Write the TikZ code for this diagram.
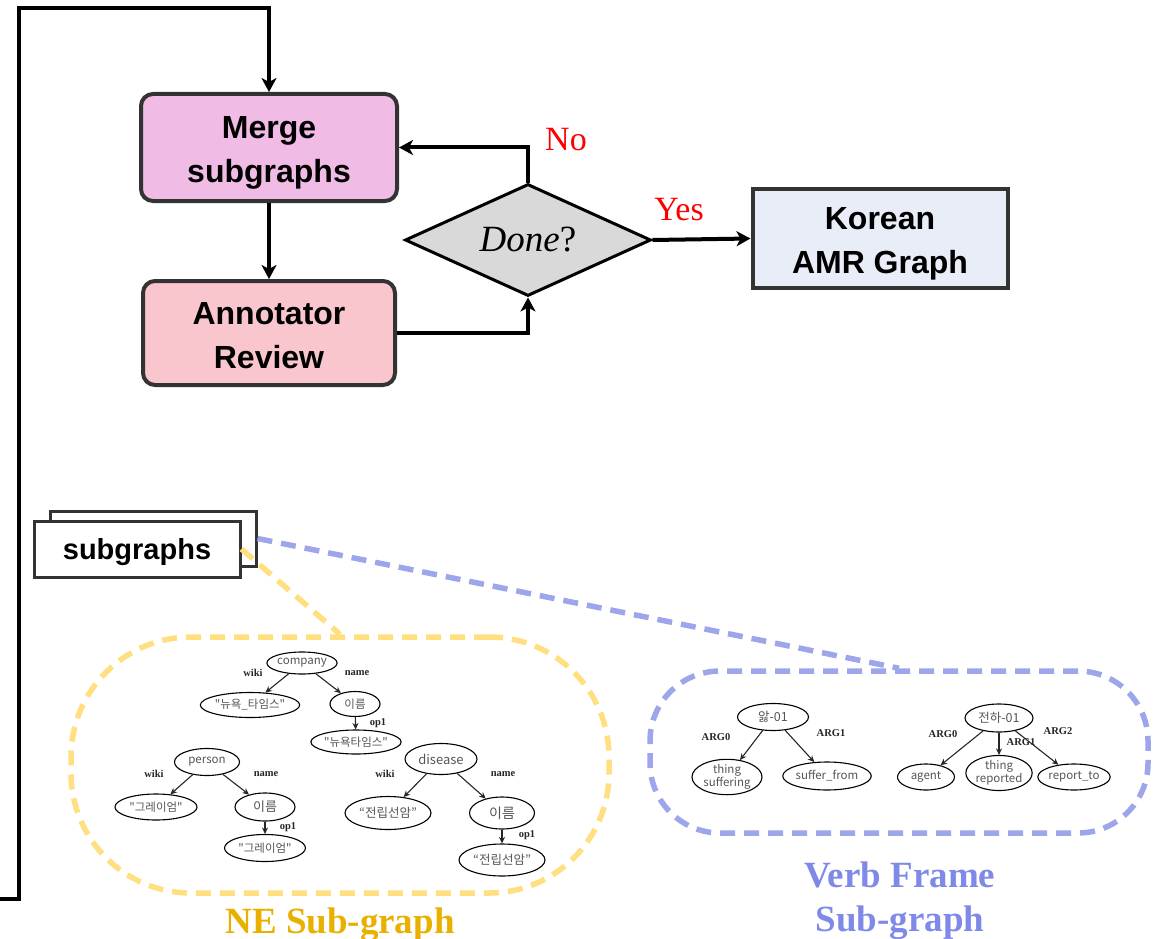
\documentclass[tikz,border=0pt]{standalone}
\usepackage{fontspec}
\setmainfont{Liberation Serif}
\newfontfamily\boxfont{Liberation Sans}
\newfontfamily\krfont{Noto Sans CJK KR}
\usetikzlibrary{shapes.geometric,arrows.meta}
\definecolor{boxline}{HTML}{333333}
\definecolor{mergefill}{HTML}{F0BBE5}
\definecolor{annotfill}{HTML}{FAC6CD}
\definecolor{korfill}{HTML}{E8EDF7}
\definecolor{diamondfill}{HTML}{D9D9D9}
\definecolor{neyellow}{HTML}{FFDF80}
\definecolor{vfblue}{HTML}{9DA5EB}
\definecolor{nelabel}{HTML}{E9B000}
\definecolor{vflabel}{HTML}{7F89E8}
\definecolor{nodetext}{HTML}{555555}
\newcommand{\lowr}[1]{\raisebox{-5pt}[\height][\depth]{#1}}
\begin{document}
\begin{tikzpicture}[x=1pt,y=-1pt,
  flowbox/.style={draw=boxline, line width=4pt, font=\boxfont\bfseries\fontsize{32}{44}\selectfont, align=center, inner sep=0pt},
  flowarrow/.style={line width=4pt, -{Stealth[length=14pt,width=15pt,inset=4pt]}},
  stackbox/.style={draw=boxline, line width=3pt, fill=white, minimum width=206pt, minimum height=55pt, inner sep=0pt},
  yesno/.style={text=red, font=\fontsize{34}{40}\selectfont},
  region/.style={line width=5.5pt, dash pattern=on 15pt off 9pt, inner sep=0pt},
  amr/.style n args={2}{ellipse, draw, line width=1.1pt, minimum width=#1, minimum height=#2, inner sep=0pt, align=center, text=nodetext, font=\krfont\fontsize{11.5}{13}\selectfont},
  gedge/.style={line width=1.1pt, draw=black!85, -{Stealth[length=6.5pt,width=6pt]}},
  elabel/.style={font=\bfseries\fontsize{10.5}{12}\selectfont, text=black!85},
  bigl/.style={font=\bfseries\fontsize{37}{44}\selectfont, align=center}
]
\useasboundingbox (0,0) rectangle (1159,939);

% ---------------- flowchart ----------------
\node[flowbox, rounded corners=12pt, fill=mergefill, minimum width=256pt, minimum height=107pt] (merge) at (269,147.5) {\lowr{Merge}\\\lowr{subgraphs}};
\node[flowbox, rounded corners=12pt, fill=annotfill, minimum width=252pt, minimum height=104pt] (annot) at (269,333) {\raisebox{-3pt}[\height][\depth]{Annotator}\\\raisebox{-3pt}[\height][\depth]{Review}};
\node[flowbox, fill=korfill, minimum width=255pt, minimum height=99pt] (korean) at (880,238.5) {\lowr{Korean}\\\lowr{AMR Graph}};
\node[diamond, draw=black, line width=3pt, fill=diamondfill, minimum width=246pt, minimum height=112pt, inner sep=0pt, shape aspect=2.2, font=\fontsize{37}{42}\selectfont] (done) at (528,240) {{\itshape Done}?};

\coordinate (loopstart) at (0,899);
\coordinate (loopcorner) at (19,8);
\draw[flowarrow] (loopstart) -| (loopcorner) -| (merge.north);
\draw[flowarrow] (merge.south) -- (annot.north);
\draw[flowarrow] (annot.east) -| (done.south);
\draw[flowarrow] (done.north) |- (merge.east);
\draw[flowarrow] (done.east) -- (korean.west);
\node[yesno] (no) at (566,140) {No};
\node[yesno] (yes) at (679,210) {Yes};

% ---------------- regions ----------------
\node[region, draw=neyellow, rounded corners=120pt, minimum width=538pt, minimum height=256pt] (nereg) at (340,765) {};
\node[region, draw=vfblue, rounded corners=70pt, minimum width=498pt, minimum height=162pt] (vfreg) at (899,752) {};

% ---------------- subgraphs stack ----------------
\node[stackbox] (back) at (153,538.5) {};
\node[stackbox, minimum height=56pt, font=\boxfont\bfseries\fontsize{29}{36}\selectfont] (front) at (137,549) {\raisebox{-3pt}[\height][\depth]{subgraphs}};
\draw[region, draw=vfblue] (back.east) -- (vfreg.north);
\draw[region, draw=neyellow] (front.east) -- (nereg.north);

% ---------------- NE sub-graphs ----------------
\node[amr={63pt}{22pt}] (company) at (302,663) {company};
\node[amr={68pt}{25pt}] (nyt1) at (250,705) {"뉴욕\_타임스"};
\node[amr={50pt}{25pt}] (nm1) at (355,704) {이름};
\node[amr={72pt}{24pt}] (nyt2) at (356,742) {"뉴욕타임스"};
\draw[gedge] (company) -- (nyt1);
\draw[gedge] (company) -- (nm1);
\draw[gedge] (nm1) -- (nyt2);
\node[elabel] (l1) at (253,673) {wiki};
\node[elabel] (l2) at (357,673) {name};
\node[elabel] (l3) at (378,723) {op1};

\node[amr={65pt}{27pt}] (person) at (207,762) {person};
\node[amr={82pt}{26pt}] (gr1) at (156,807) {"그레이엄"};
\node[amr={60pt}{28pt}, font=\krfont\fontsize{13}{15}\selectfont] (nm2) at (265,807) {이름};
\node[amr={81pt}{27pt}] (gr2) at (265,848) {"그레이엄"};
\draw[gedge] (person) -- (gr1);
\draw[gedge] (person) -- (nm2);
\draw[gedge] (nm2) -- (gr2);
\node[elabel] (l4) at (154,774) {wiki};
\node[elabel] (l5) at (266,774) {name};
\node[elabel] (l6) at (288,827) {op1};

\node[amr={72pt}{31pt}, font=\krfont\fontsize{13}{15}\selectfont] (disease) at (441,759) {disease};
\node[amr={86pt}{33pt}, font=\krfont\fontsize{12.5}{15}\selectfont] (pc1) at (388,813) {“전립선암”};
\node[amr={65pt}{32pt}, font=\krfont\fontsize{14}{16}\selectfont] (nm3) at (502,813) {이름};
\node[amr={86pt}{32pt}, font=\krfont\fontsize{12.5}{15}\selectfont] (pc2) at (502,860) {“전립선암”};
\draw[gedge] (disease) -- (pc1);
\draw[gedge] (disease) -- (nm3);
\draw[gedge] (nm3) -- (pc2);
\node[elabel] (l7) at (385,774) {wiki};
\node[elabel] (l8) at (503,774) {name};
\node[elabel] (l9) at (527,835) {op1};

% ---------------- Verb frame sub-graphs ----------------
\node[amr={71pt}{27pt}, font=\krfont\fontsize{12.5}{15}\selectfont] (v1) at (773,717) {앓-01};
\node[amr={70pt}{35pt}] (ts) at (727,777) {thing\\suffering};
\node[amr={86pt}{28pt}] (sf) at (827,776) {suffer\_from};
\draw[gedge] (v1) -- (ts);
\draw[gedge] (v1) -- (sf);
\node[elabel] (a1) at (716,737) {ARG0};
\node[elabel] (a2) at (831,733) {ARG1};

\node[amr={68pt}{28pt}, font=\krfont\fontsize{12.5}{15}\selectfont] (v2) at (999,718) {전하-01};
\node[amr={57pt}{26pt}] (ag) at (926,777) {agent};
\node[amr={63pt}{34pt}] (tr) at (999,773) {thing\\reported};
\node[amr={58pt}{26pt}] (rt) at (1074,777) {report\_to};
\draw[gedge] (v2) -- (ag);
\draw[gedge] (v2) -- (tr);
\draw[gedge] (v2) -- (rt);
\node[elabel] (a3) at (943,734) {ARG0};
\node[elabel] (a4) at (1021,742) {ARG1};
\node[elabel] (a5) at (1058,731) {ARG2};

% ---------------- titles ----------------
\node[bigl, text=nelabel, anchor=base] (netitle) at (340,933) {NE Sub-graph};
\node[bigl, text=vflabel, anchor=base] (vftitle1) at (900,887) {Verb Frame};
\node[bigl, text=vflabel, anchor=base] (vftitle2) at (900,931) {Sub-graph};
\end{tikzpicture}
\end{document}
